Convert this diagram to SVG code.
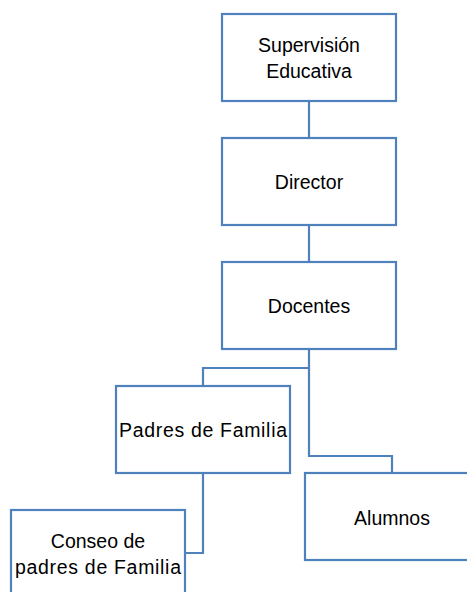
<svg xmlns="http://www.w3.org/2000/svg" width="467" height="592" viewBox="0 0 467 592">
<style>
.box{fill:#ffffff;stroke:#4F81BD;stroke-width:2.2}
.ln{fill:none;stroke:#4F81BD;stroke-width:2.2}
text{font-family:"Liberation Sans",Arial,sans-serif;font-size:19.5px;fill:#000;text-anchor:middle}
</style>
<rect width="467" height="592" fill="#ffffff"/>
<g id="connectors">
<path class="ln" d="M309,101 V138"/>
<path class="ln" d="M309,225 V262"/>
<path class="ln" d="M309,349 V368 H203 V386"/>
<path class="ln" d="M309,368 V456 H392 V473"/>
<path class="ln" d="M203,473 V553 H185"/>
</g>
<g id="supervision">
<rect class="box" x="222" y="14" width="174" height="87"/>
<text x="309" y="52">Supervisión</text>
<text x="309" y="78">Educativa</text>
</g>
<g id="director">
<rect class="box" x="222" y="138" width="174" height="87"/>
<text x="309" y="189">Director</text>
</g>
<g id="docentes">
<rect class="box" x="222" y="262" width="174" height="87"/>
<text x="309" y="313">Docentes</text>
</g>
<g id="padres">
<rect class="box" x="116" y="386" width="174" height="87"/>
<text x="203" y="437" textLength="168" lengthAdjust="spacing">Padres de Familia</text>
</g>
<g id="alumnos">
<rect class="box" x="305" y="473" width="174" height="87"/>
<text x="392" y="525">Alumnos</text>
</g>
<g id="conseo">
<rect class="box" x="11" y="510" width="174" height="87"/>
<text x="98" y="548">Conseo de</text>
<text x="98" y="574" textLength="166" lengthAdjust="spacing">padres de Familia</text>
</g>
</svg>
